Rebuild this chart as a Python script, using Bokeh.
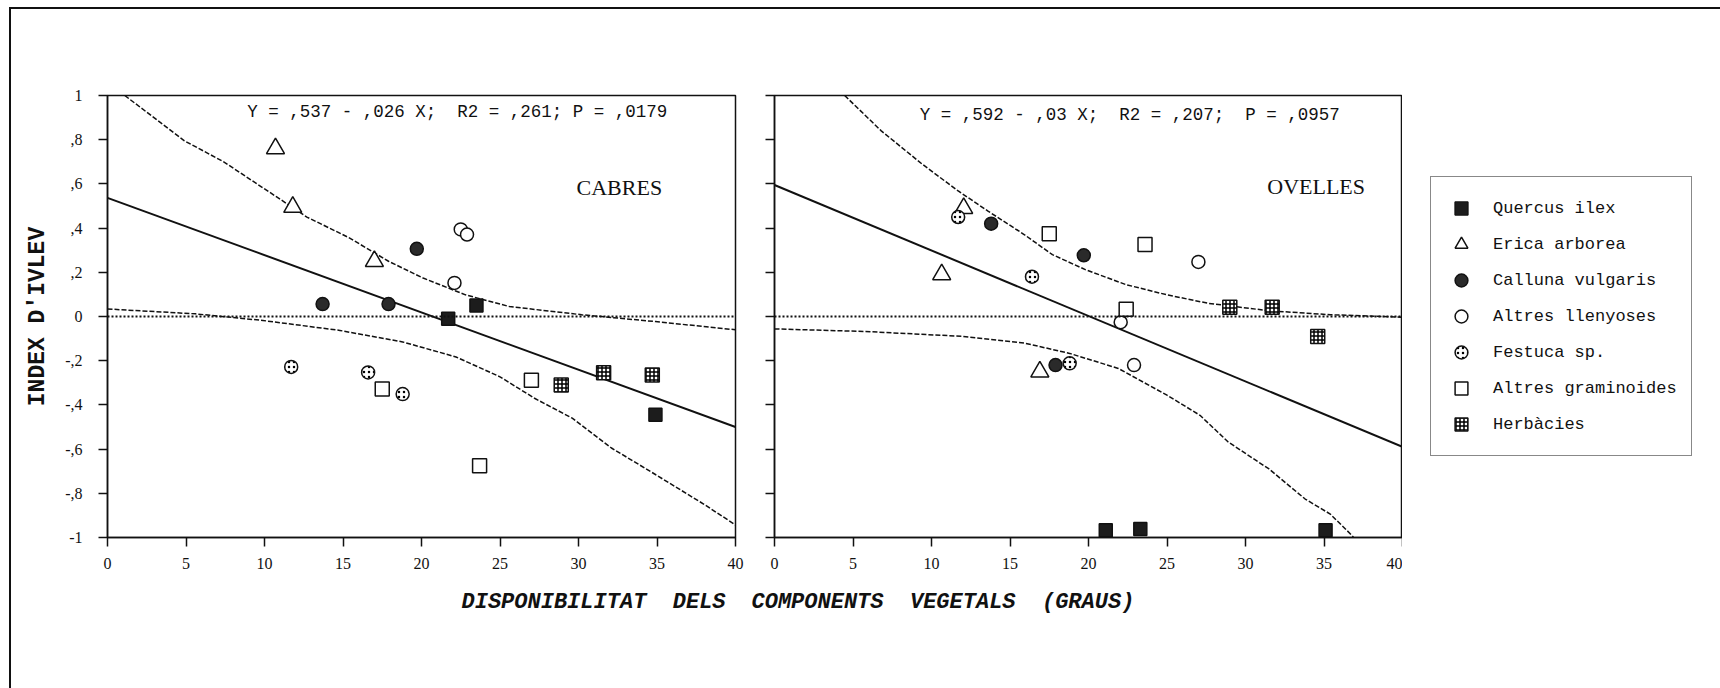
from bokeh.plotting import figure
from bokeh.models import Range1d, FixedTicker, Span, Label, Legend, LegendItem, Title
from bokeh.layouts import row
from bokeh.embed import file_html
from bokeh.resources import INLINE

# ---------------- data ----------------
categories = ["Quercus ilex", "Erica arborea", "Calluna vulgaris", "Altres llenyoses",
              "Festuca sp.", "Altres graminoides", "Herbàcies"]

x_ticks = [0, 5, 10, 15, 20, 25, 30, 35, 40]
y_ticks = [-1, -0.8, -0.6, -0.4, -0.2, 0, 0.2, 0.4, 0.6, 0.8, 1]
y_tick_labels = ["-1", "-,8", "-,6", "-,4", "-,2", "0", ",2", ",4", ",6", ",8", "1"]

# CABRES (goats)
cab_quercus_x = [21.7, 23.5, 34.9]
cab_quercus_y = [-0.01, 0.05, -0.445]
cab_erica_x = [10.7, 11.8, 17.0]
cab_erica_y = [0.76, 0.495, 0.25]
cab_calluna_x = [19.7, 13.7, 17.9]
cab_calluna_y = [0.306, 0.056, 0.056]
cab_llenyoses_x = [22.5, 22.9, 22.1]
cab_llenyoses_y = [0.394, 0.371, 0.152]
cab_festuca_x = [11.7, 16.6, 18.8]
cab_festuca_y = [-0.228, -0.253, -0.351]
cab_graminoides_x = [17.5, 27.0, 23.7]
cab_graminoides_y = [-0.328, -0.288, -0.675]
cab_herbacies_x = [28.9, 31.6, 34.7]
cab_herbacies_y = [-0.31, -0.255, -0.265]

cab_fit_x = [0, 40]
cab_fit_y = [0.537, -0.5]
cab_upper_x = [1.1, 4.9, 7.4, 10.8, 12.7, 15.4, 17.9, 20.1, 22.8, 25.6, 30.2, 34.9, 40.0]
cab_upper_y = [1.0, 0.795, 0.70, 0.54, 0.45, 0.356, 0.25, 0.174, 0.098, 0.045, 0.008, -0.023, -0.06]
cab_lower_x = [0, 5.6, 9.9, 14.8, 18.8, 22.2, 25.0, 27.2, 29.6, 32.1, 34.9, 38.0, 40.0]
cab_lower_y = [0.034, 0.012, -0.018, -0.063, -0.115, -0.183, -0.273, -0.37, -0.46, -0.595, -0.715, -0.85, -0.943]
cab_equation = "Y = ,537 - ,026 X;\u00a0 R2 = ,261; P = ,0179"

# OVELLES (sheep)
ove_quercus_x = [21.1, 23.3, 35.1]
ove_quercus_y = [-0.967, -0.962, -0.967]
ove_erica_x = [12.05, 10.65, 16.9]
ove_erica_y = [0.49, 0.19, -0.25]
ove_calluna_x = [13.8, 19.7, 17.9]
ove_calluna_y = [0.42, 0.277, -0.22]
ove_llenyoses_x = [27.0, 22.05, 22.9]
ove_llenyoses_y = [0.247, -0.026, -0.22]
ove_festuca_x = [11.7, 16.4, 18.8]
ove_festuca_y = [0.45, 0.18, -0.212]
ove_graminoides_x = [17.5, 23.6, 22.4]
ove_graminoides_y = [0.374, 0.326, 0.033]
ove_herbacies_x = [29.0, 31.7, 34.6]
ove_herbacies_y = [0.042, 0.042, -0.09]

ove_fit_x = [0, 40]
ove_fit_y = [0.595, -0.59]
ove_upper_x = [4.47, 6.8, 9.4, 11.7, 13.6, 15.9, 17.7, 19.8, 22.4, 25.0, 27.6, 31.5, 35.4, 40.0]
ove_upper_y = [1.0, 0.84, 0.69, 0.568, 0.477, 0.371, 0.28, 0.212, 0.144, 0.098, 0.06, 0.026, 0.008, -0.003]
ove_lower_x = [0, 5.8, 12.0, 15.9, 18.8, 21.9, 25.0, 27.1, 28.9, 31.5, 33.8, 35.4, 36.8, 37.2]
ove_lower_y = [-0.056, -0.068, -0.09, -0.12, -0.167, -0.235, -0.356, -0.447, -0.568, -0.69, -0.826, -0.894, -0.992, -1.03]
ove_equation = "Y = ,592 - ,03 X;\u00a0 R2 = ,207;\u00a0 P = ,0957"

y_title = "INDEX D'IVLEV"
x_title_left = "DISPONIBILITAT\u00a0 DELS"
x_title_right = "COMPONENTS\u00a0 VEGETALS\u00a0 (GRAUS)"

# ---------------- styles ----------------
styles = {
    "Quercus ilex": dict(marker="square", size=13, fill_color="#1c1c1c"),
    "Erica arborea": dict(marker="triangle", size=18, fill_color="white"),
    "Calluna vulgaris": dict(marker="circle", size=13, fill_color="#2a2a2a"),
    "Altres llenyoses": dict(marker="circle", size=13, fill_color="white"),
    "Festuca sp.": dict(marker="circle", size=13, fill_color="white",
                        hatch_pattern=".", hatch_color="black", hatch_scale=5, hatch_weight=1.5),
    "Altres graminoides": dict(marker="square", size=14, fill_color="white"),
    "Herbàcies": dict(marker="square", size=14, fill_color="white",
                      hatch_pattern="+", hatch_color="black", hatch_scale=4, hatch_weight=1.5),
}

INK = "#111111"
SERIF = "Liberation Serif"
MONO = "Liberation Mono"
H = 679          # figure height (page is 688, outer frame line takes the rest)
TOP = 86
FRAME_H = 442


def make_panel(width, border_left, border_right):
    p = figure(width=width, height=H, output_backend="svg", toolbar_location=None,
               x_range=Range1d(0, 40), y_range=Range1d(-1, 1),
               min_border_left=border_left, min_border_right=border_right,
               min_border_top=TOP, min_border_bottom=H - TOP - FRAME_H)
    p.background_fill_color = "white"
    p.border_fill_color = "white"
    p.outline_line_color = INK
    p.outline_line_width = 1.5
    p.grid.visible = False
    for ax in (p.xaxis[0], p.yaxis[0]):
        ax.axis_line_color = INK
        ax.axis_line_width = 1.5
        ax.major_tick_line_color = INK
        ax.major_tick_line_width = 1.5
        ax.major_tick_out = 9
        ax.major_tick_in = 0
        ax.minor_tick_line_color = None
        ax.major_label_text_font = SERIF
        ax.major_label_text_font_size = "16px"
        ax.major_label_text_color = INK
    p.xaxis.ticker = FixedTicker(ticks=x_ticks)
    p.xaxis.major_label_standoff = 11
    p.yaxis.ticker = FixedTicker(ticks=y_ticks)
    p.yaxis.major_label_overrides = {t: s for t, s in zip(y_ticks, y_tick_labels)}
    p.yaxis.major_label_standoff = 16
    p.add_layout(Span(location=0, dimension="width", line_color=INK, line_width=2,
                      line_dash="2 2"))
    return p


def draw(p, data, fit, upper, lower):
    p.line(upper[0], upper[1], line_color=INK, line_width=1.5, line_dash="5 2")
    p.line(lower[0], lower[1], line_color=INK, line_width=1.5, line_dash="5 2")
    p.line(fit[0], fit[1], line_color=INK, line_width=2)
    rends = {}
    for cat in categories:
        xs, ys = data[cat]
        rends[cat] = p.scatter(xs, ys, line_color=INK, line_width=1.5, **styles[cat])
    return rends


cab_data = {
    "Quercus ilex": (cab_quercus_x, cab_quercus_y),
    "Erica arborea": (cab_erica_x, cab_erica_y),
    "Calluna vulgaris": (cab_calluna_x, cab_calluna_y),
    "Altres llenyoses": (cab_llenyoses_x, cab_llenyoses_y),
    "Festuca sp.": (cab_festuca_x, cab_festuca_y),
    "Altres graminoides": (cab_graminoides_x, cab_graminoides_y),
    "Herbàcies": (cab_herbacies_x, cab_herbacies_y),
}
ove_data = {
    "Quercus ilex": (ove_quercus_x, ove_quercus_y),
    "Erica arborea": (ove_erica_x, ove_erica_y),
    "Calluna vulgaris": (ove_calluna_x, ove_calluna_y),
    "Altres llenyoses": (ove_llenyoses_x, ove_llenyoses_y),
    "Festuca sp.": (ove_festuca_x, ove_festuca_y),
    "Altres graminoides": (ove_graminoides_x, ove_graminoides_y),
    "Herbàcies": (ove_herbacies_x, ove_herbacies_y),
}

# ---------------- left panel: CABRES ----------------
p1 = make_panel(736, 96, 12)
draw(p1, cab_data, (cab_fit_x, cab_fit_y), (cab_upper_x, cab_upper_y), (cab_lower_x, cab_lower_y))
p1.add_layout(Label(x=8.9, y=0.925, text=cab_equation, text_font=MONO, text_font_size="17.5px",
                    text_color=INK, text_baseline="middle", text_align="left"))
p1.add_layout(Label(x=32.6, y=0.585, text="CABRES", text_font=SERIF, text_font_size="22px",
                    text_color=INK, text_baseline="middle", text_align="center"))
p1.add_layout(Title(text=y_title, align="center", text_font=MONO, text_font_size="23px",
                    text_font_style="bold", text_color=INK, standoff=23), "left")
p1.add_layout(Title(text=x_title_left, align="left", offset=354, text_font=MONO,
                    text_font_size="22px", text_font_style="bold italic", text_color=INK,
                    standoff=33), "below")

# ---------------- right panel: OVELLES ----------------
p2 = make_panel(655, 27, 0)
p2.yaxis.major_label_text_color = None
p2.yaxis.major_label_standoff = 0
rends = draw(p2, ove_data, (ove_fit_x, ove_fit_y), (ove_upper_x, ove_upper_y), (ove_lower_x, ove_lower_y))
p2.add_layout(Label(x=9.25, y=0.91, text=ove_equation, text_font=MONO, text_font_size="17.5px",
                    text_color=INK, text_baseline="middle", text_align="left"))
p2.add_layout(Label(x=34.5, y=0.588, text="OVELLES", text_font=SERIF, text_font_size="22px",
                    text_color=INK, text_baseline="middle", text_align="center"))
p2.add_layout(Title(text=x_title_right, align="left", offset=-23, text_font=MONO,
                    text_font_size="22px", text_font_style="bold italic", text_color=INK,
                    standoff=33), "below")

# ---------------- legend figure ----------------
p3 = figure(width=318, height=H, output_backend="svg", toolbar_location=None,
            x_range=Range1d(1000, 1001), y_range=Range1d(1000, 1001),
            x_axis_type=None, y_axis_type=None,
            min_border_left=0, min_border_right=0, min_border_top=0, min_border_bottom=0)
p3.outline_line_color = None
p3.background_fill_color = "white"
p3.border_fill_color = "white"
leg_rends = {}
for cat in categories:
    xs, ys = ove_data[cat]
    leg_rends[cat] = p3.scatter(xs, ys, line_color=INK, line_width=1.5, **styles[cat])

# frames are aligned across the row, so (28, 81) is measured from the shared frame bottom
legend = Legend(items=[LegendItem(label=c, renderers=[leg_rends[c]]) for c in categories],
                location=(28, 81), padding=14, spacing=2, margin=0,
                glyph_width=32, glyph_height=34, label_height=34, label_standoff=16,
                label_text_font=MONO, label_text_font_size="17px", label_text_color=INK,
                border_line_color=INK, border_line_width=1.5,
                background_fill_color="white", background_fill_alpha=1)
p3.add_layout(legend)

layout = row(p1, p2, p3, margin=(7, 0, 0, 9),
             styles={"border-top": "2px solid #111111", "border-left": "2px solid #111111"})
open("out.html", "w").write(file_html(layout, INLINE))
